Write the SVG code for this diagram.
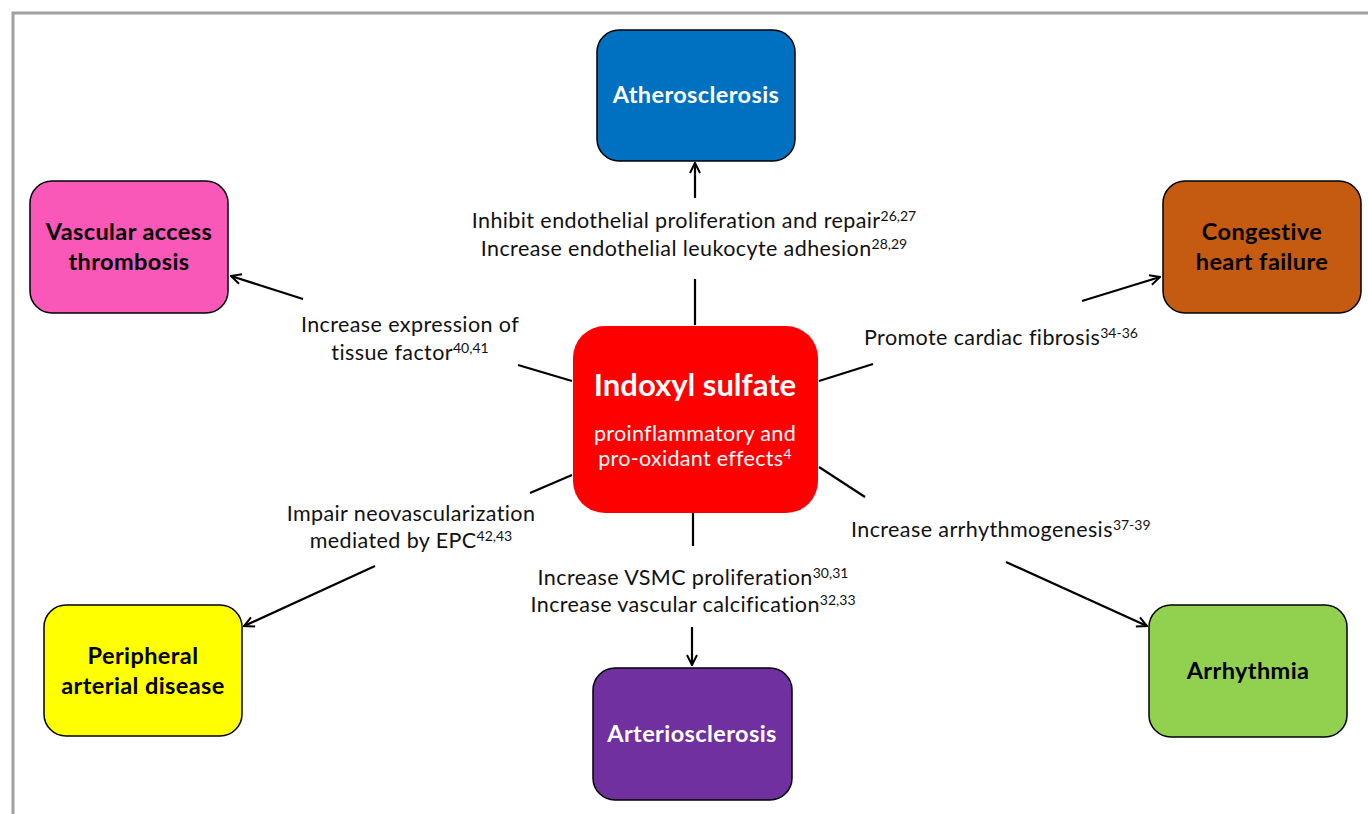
<svg xmlns="http://www.w3.org/2000/svg" width="1368" height="814" viewBox="0 0 1368 814">
<style>
.box{stroke:#000;stroke-width:1.5}
.t{font-family:Lato,"Liberation Sans",sans-serif;font-size:21.5px;letter-spacing:0.4px;fill:#111;text-anchor:middle}
.tl{font-family:Lato,"Liberation Sans",sans-serif;font-size:21.5px;letter-spacing:0.4px;fill:#111}
.n{font-family:Lato,"Liberation Sans",sans-serif;font-size:23.5px;letter-spacing:0.4px;font-weight:bold;text-anchor:middle}
.sup{font-size:14px;letter-spacing:0}
.c{stroke:#000;stroke-width:2.2;fill:none}
.w{font-family:Lato,"Liberation Sans",sans-serif;fill:#fff;text-anchor:middle}
</style>
<defs>
<marker id="ah" viewBox="0 0 12 12" refX="11" refY="6" markerWidth="12" markerHeight="12" markerUnits="userSpaceOnUse" orient="auto">
<path d="M1,1 L11,6 L1,11" fill="none" stroke="#000" stroke-width="2"/>
</marker>
</defs>
<rect width="1368" height="814" fill="#fff"/>
<path d="M13,814 V13 H1368" fill="none" stroke="#a0a0a0" stroke-width="3"/>

<g id="connectors">
<line class="c" x1="695" y1="325" x2="695" y2="279"/>
<line class="c" x1="695" y1="198" x2="695" y2="163" marker-end="url(#ah)"/>
<line class="c" x1="693" y1="513" x2="693" y2="546"/>
<line class="c" x1="692" y1="627" x2="692" y2="665" marker-end="url(#ah)"/>
<line class="c" x1="572" y1="381" x2="518" y2="365"/>
<line class="c" x1="303" y1="299" x2="231" y2="276" marker-end="url(#ah)"/>
<line class="c" x1="572" y1="475" x2="530" y2="493"/>
<line class="c" x1="375" y1="566" x2="244" y2="626" marker-end="url(#ah)"/>
<line class="c" x1="819" y1="381" x2="873" y2="364"/>
<line class="c" x1="1082" y1="301" x2="1160" y2="277" marker-end="url(#ah)"/>
<line class="c" x1="819" y1="467" x2="865" y2="497"/>
<line class="c" x1="1006" y1="562" x2="1147" y2="626" marker-end="url(#ah)"/>
</g>

<g id="labels">
<text class="t" x="694" y="228">Inhibit endothelial proliferation and repair<tspan class="sup" dy="-7">26,27</tspan></text>
<text class="t" x="694" y="256">Increase endothelial leukocyte adhesion<tspan class="sup" dy="-7">28,29</tspan></text>
<text class="t" x="410" y="332">Increase expression of</text>
<text class="t" x="410" y="360">tissue factor<tspan class="sup" dy="-7">40,41</tspan></text>
<text class="tl" x="864" y="345">Promote cardiac fibrosis<tspan class="sup" dy="-7">34-36</tspan></text>
<text class="t" x="411" y="521">Impair neovascularization</text>
<text class="t" x="411" y="548">mediated by EPC<tspan class="sup" dy="-7">42,43</tspan></text>
<text class="tl" x="851" y="537">Increase arrhythmogenesis<tspan class="sup" dy="-7">37-39</tspan></text>
<text class="t" x="693" y="585">Increase VSMC proliferation<tspan class="sup" dy="-7">30,31</tspan></text>
<text class="t" x="693" y="612">Increase vascular calcification<tspan class="sup" dy="-7">32,33</tspan></text>
</g>

<g id="atherosclerosis">
<rect class="box" x="597" y="30" width="198" height="131" rx="22" fill="#0070c0"/>
<text class="n" x="696" y="103" fill="#fff">Atherosclerosis</text>
</g>
<g id="vascular-access-thrombosis">
<rect class="box" x="30" y="181" width="198" height="132" rx="22" fill="#f958b8"/>
<text class="n" x="129" y="240" fill="#000">Vascular access</text>
<text class="n" x="129" y="270" fill="#000">thrombosis</text>
</g>
<g id="congestive-heart-failure">
<rect class="box" x="1163" y="181" width="198" height="132" rx="22" fill="#c55a11"/>
<text class="n" x="1262" y="240" fill="#000">Congestive</text>
<text class="n" x="1262" y="270" fill="#000">heart failure</text>
</g>
<g id="indoxyl-sulfate">
<rect x="573" y="326" width="245" height="187" rx="32" fill="#ff0000"/>
<text class="w" x="695" y="396" font-size="31" font-weight="bold">Indoxyl sulfate</text>
<text class="w" x="695" y="441" font-size="21.5" letter-spacing="0.3">proinflammatory and</text>
<text class="w" x="695" y="466" font-size="21.5" letter-spacing="0.3">pro-oxidant effects<tspan font-size="14" dy="-7">4</tspan></text>
</g>
<g id="peripheral-arterial-disease">
<rect class="box" x="44" y="605" width="198" height="131" rx="22" fill="#ffff00"/>
<text class="n" x="143" y="664" fill="#000">Peripheral</text>
<text class="n" x="143" y="694" fill="#000">arterial disease</text>
</g>
<g id="arteriosclerosis">
<rect class="box" x="593" y="668" width="199" height="132" rx="22" fill="#7030a0"/>
<text class="n" x="692" y="742" fill="#fff">Arteriosclerosis</text>
</g>
<g id="arrhythmia">
<rect class="box" x="1149" y="605" width="198" height="132" rx="22" fill="#92d050"/>
<text class="n" x="1248" y="679" fill="#000">Arrhythmia</text>
</g>
</svg>
